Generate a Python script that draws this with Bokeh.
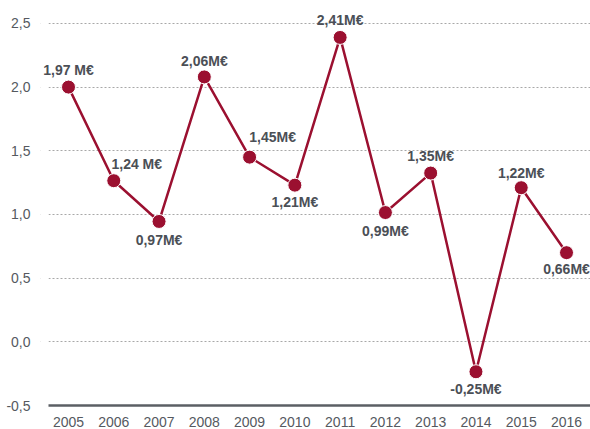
from bokeh.plotting import figure
from bokeh.models import FixedTicker, CustomJSTickFormatter, Range1d, ColumnDataSource, LabelSet, BoxAnnotation
from bokeh.core.properties import value
from bokeh.embed import file_html
from bokeh.resources import INLINE

years = [2005, 2006, 2007, 2008, 2009, 2010, 2011, 2012, 2013, 2014, 2015, 2016]
values = [2.00, 1.265, 0.945, 2.08, 1.45, 1.23, 2.39, 1.015, 1.325, -0.235, 1.21, 0.70]
labels = ["1,97 M€", "1,24 M€", "0,97M€", "2,06M€", "1,45M€", "1,21M€",
          "2,41M€", "0,99M€", "1,35M€", "-0,25M€", "1,22M€", "0,66M€"]
y_ticks = [-0.5, 0.0, 0.5, 1.0, 1.5, 2.0, 2.5]

# label placement (pixels)
label_dx = [0, 23, 0, 0, 23, 0, 0, 0, 0, 0, 0, 0]
label_dy = [17, 17, -19, 16, 20, -17, 17, -18, 17, -17, 15, -16]

RED = "#9b1030"
GREY = "#4b4f56"

X0 = 2004.3815   # frame left
XG = 2004.558    # where grid / axis line start

p = figure(width=590, height=429, output_backend="svg", toolbar_location=None,
           x_range=Range1d(X0, 2016.53), y_range=Range1d(-0.5, 2.68),
           min_border_left=40, min_border_right=0, min_border_top=0, min_border_bottom=23)
p.outline_line_color = None
p.background_fill_color = "white"

p.xgrid.grid_line_color = None
p.ygrid.grid_line_color = "#a8a8a8"
p.ygrid.grid_line_dash = "2 2"
p.ygrid.grid_line_width = 1

# blank strip hiding the start of the grid lines (labels may overhang it)
p.add_layout(BoxAnnotation(right=XG, fill_color="white", fill_alpha=1.0,
                           line_color=None, level="underlay"))

p.yaxis.ticker = FixedTicker(ticks=y_ticks)
p.yaxis.formatter = CustomJSTickFormatter(code="return tick.toFixed(1).replace('.', ',');")
p.yaxis.axis_line_color = None
p.yaxis.major_tick_line_color = None
p.yaxis.minor_tick_line_color = None
p.yaxis.major_label_text_font = "Liberation Sans"
p.yaxis.major_label_text_font_size = "14px"
p.yaxis.major_label_text_color = "#55595f"
p.yaxis.major_label_standoff = 4

p.xaxis.ticker = FixedTicker(ticks=years)
p.xaxis.bounds = (XG, 2016.53)
p.xaxis.major_label_overrides = {y: str(y) for y in years}
p.xaxis.axis_line_color = "#5b5f64"
p.xaxis.axis_line_width = 2.5
p.xaxis.major_tick_line_color = None
p.xaxis.minor_tick_line_color = None
p.xaxis.major_label_text_font = "Liberation Sans"
p.xaxis.major_label_text_font_size = "14px"
p.xaxis.major_label_text_color = "#55595f"
p.xaxis.major_label_standoff = 5

src = ColumnDataSource(dict(x=years, y=values, label=labels, dx=label_dx, dy=label_dy))

p.line("x", "y", source=src, line_color=RED, line_width=2.5)
p.scatter("x", "y", source=src, size=14, fill_color=RED, line_color="white", line_width=1)
p.add_layout(LabelSet(x="x", y="y", text="label", x_offset="dx", y_offset="dy", source=src,
                      text_font=value("Liberation Sans"), text_font_style="bold",
                      text_font_size="14px", text_color=GREY,
                      text_align="center", text_baseline="middle"))

open("out.html", "w").write(file_html(p, INLINE))
